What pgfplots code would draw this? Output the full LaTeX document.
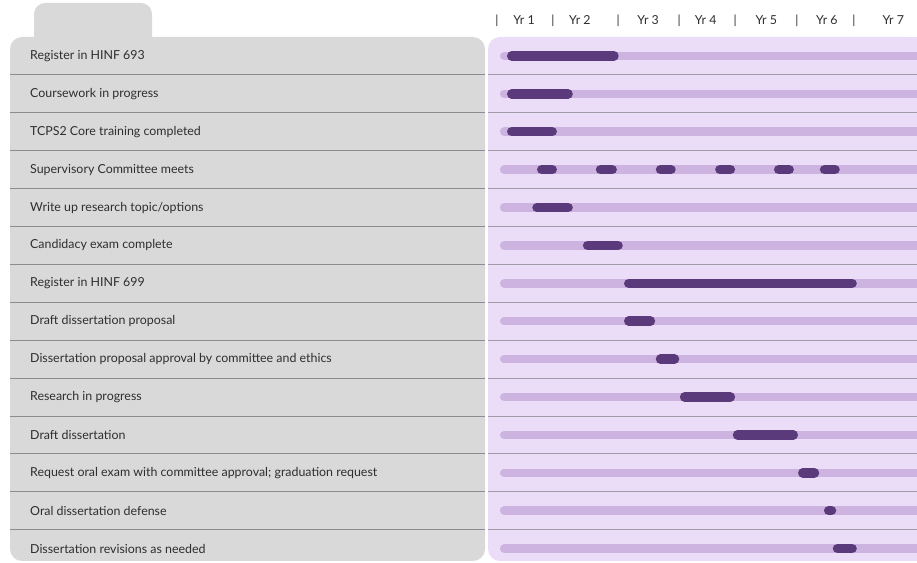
\documentclass[border=0pt]{standalone}
\usepackage{fontspec}
\setmainfont{Lato}
\usepackage{pgfplots}
\pgfplotsset{compat=1.18}
\usepackage{pgfplotstable}

\definecolor{panelgray}{HTML}{D9D9D9}
\definecolor{panellilac}{HTML}{EBDDF7}
\definecolor{track}{HTML}{CDB3DF}
\definecolor{task}{HTML}{5A3A7B}
\definecolor{rule}{HTML}{8E8A90}
\definecolor{labeltext}{HTML}{2E2E2E}

% task bars: row number, start and end in years (visible extent)
\pgfplotstableread{
row s e
1 0.17 2.07
2 0.17 1.29
3 0.17 1.02
4 0.68 1.02
4 1.68 2.04
4 2.70 3.04
4 3.71 4.05
4 4.71 5.05
4 5.49 5.83
5 0.60 1.29
6 1.46 2.14
7 2.16 6.12
8 2.16 2.69
9 2.70 3.10
10 3.11 4.05
11 4.01 5.12
12 5.12 5.48
13 5.56 5.77
14 5.71 6.12
}\tasks

\pgfplotstableread{
row
1
2
3
4
5
6
7
8
9
10
11
12
13
14
}\rows

\begin{document}
\begin{tikzpicture}
\begin{scope}[x=1pt,y=1pt]
\path[use as bounding box] (0,0) rectangle (917,563);
% left panel with tab
\fill[panelgray, rounded corners=11pt] (34,500) rectangle (152,560);
\fill[panelgray, rounded corners=12pt] (10,2) rectangle (485,526);
% right panel
\fill[panellilac, rounded corners=12pt] (488,2) rectangle (917,526);
\fill[panellilac] (880,2) rectangle (917,526);
% row separators
\foreach \i in {1,...,13} {
  \draw[rule, line width=0.9pt] (10,{507-37.9*(\i-0.5)}) -- (485,{507-37.9*(\i-0.5)});
  \draw[rule!80!panellilac, line width=0.9pt] (488,{507-37.9*(\i-0.5)}) -- (917,{507-37.9*(\i-0.5)});
}
\end{scope}

\begin{axis}[
    at={(488pt,0pt)}, anchor=south west,
    width=429pt, height=526pt,
    scale only axis,
    xmin=-0.153, xmax=7.143,
    ymin=0.5, ymax=14.38,
    y dir=reverse,
    axis line style={draw=none},
    tick style={draw=none},
    xticklabel pos=right,
    xtick={0.46,1.41,2.57,3.55,4.58,5.61,6.74},
    xticklabels={Yr 1,Yr 2,Yr 3,Yr 4,Yr 5,Yr 6,Yr 7},
    extra x ticks={0,0.95,2.06,3.1,4.05,5.1,6.07},
    extra x tick labels={|,|,|,|,|,|,|},
    xticklabel style={anchor=base, yshift=13pt, inner sep=0pt,
        font=\fontsize{12.4}{14}\selectfont, text=labeltext},
    ytick={1,...,14},
    yticklabels={
        Register in HINF 693,
        Coursework in progress,
        TCPS2 Core training completed,
        Supervisory Committee meets,
        Write up research topic/options,
        Candidacy exam complete,
        Register in HINF 699,
        Draft dissertation proposal,
        Dissertation proposal approval by committee and ethics,
        Research in progress,
        Draft dissertation,
        Request oral exam with committee approval; graduation request,
        Oral dissertation defense,
        Dissertation revisions as needed},
    yticklabel style={anchor=west, xshift=-458pt, inner sep=0pt,
        font=\fontsize{12.4}{14}\selectfont, text=labeltext},
]
% light tracks behind every task
\addplot[track, line width=8.5pt, line cap=round,
    quiver={u=8, v=0}] table[x expr=0.122, y=row] {\rows};
% task bars (round caps take half the line width at each end)
\addplot[task, line width=9.5pt, line cap=round,
    quiver={u=\thisrow{e}-\thisrow{s}-0.162, v=0}]
    table[x expr=\thisrow{s}+0.081, y=row] {\tasks};
\end{axis}
\end{tikzpicture}
\end{document}
